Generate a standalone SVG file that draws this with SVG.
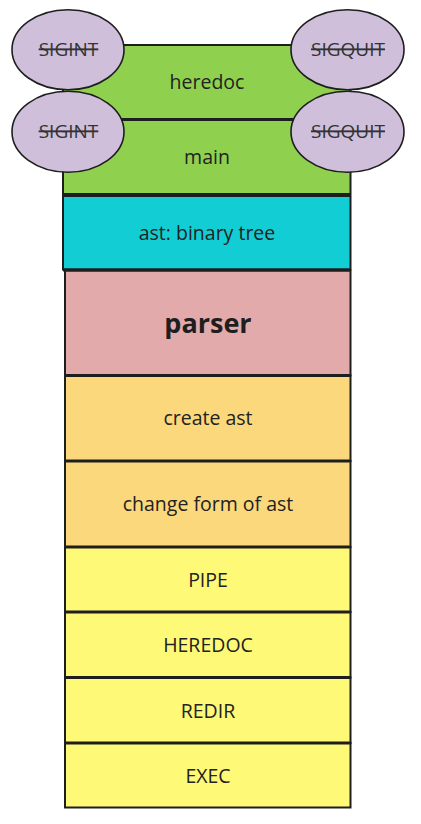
<svg xmlns="http://www.w3.org/2000/svg" width="421" height="824" viewBox="0 0 421 824">
<style>
.box{stroke:#1e1e1e;stroke-width:2}
.sep{stroke:#1e1e1e;stroke-width:3}
.sig{fill:#cfbfdb;stroke:#1e1e1e;stroke-width:1.6}
.t{font-family:"Open Sans","Noto Sans",sans-serif;font-size:19.5px;fill:#222;text-anchor:middle}
.s{font-family:"Open Sans","Noto Sans",sans-serif;font-size:19px;fill:#333;text-anchor:middle;text-decoration:line-through}
.b{font-family:"Open Sans","Noto Sans",sans-serif;font-size:27px;font-weight:bold;fill:#1e1e1e;text-anchor:middle}
.green{fill:#8fd14f}.cyan{fill:#12cdd4}.pink{fill:#e3aaab}.orange{fill:#fad87b}.yellow{fill:#fff978}
</style>
<rect width="421" height="824" fill="#ffffff"/>
<g id="connectors"></g>
<g id="heredoc"><rect class="box green" x="63" y="45" width="287.5" height="74.5"/><text class="t" x="207" y="89">heredoc</text></g>
<g id="main"><rect class="box green" x="63" y="119.5" width="287.5" height="74.5"/><line class="sep" x1="63" y1="119.5" x2="350.5" y2="119.5"/><text class="t" x="207" y="164">main</text></g>
<g id="ast"><rect class="box cyan" x="63" y="196" width="287.5" height="73.5"/><line class="sep" x1="63" y1="195" x2="350.5" y2="195"/><text class="t" x="207" y="240">ast: binary tree</text></g>
<g id="parser"><rect class="box pink" x="65" y="270.5" width="285.5" height="105"/><line class="sep" x1="63" y1="270" x2="350.5" y2="270"/><text class="b" x="208" y="333">parser</text></g>
<g id="create-ast"><rect class="box orange" x="65" y="375.5" width="285.5" height="85.5"/><line class="sep" x1="65" y1="375.5" x2="350.5" y2="375.5"/><text class="t" x="208" y="425">create ast</text></g>
<g id="change-form"><rect class="box orange" x="65" y="461" width="285.5" height="86"/><line class="sep" x1="65" y1="461" x2="350.5" y2="461"/><text class="t" x="208" y="511">change form of ast</text></g>
<g id="pipe"><rect class="box yellow" x="65" y="547" width="285.5" height="65"/><line class="sep" x1="65" y1="547" x2="350.5" y2="547"/><text class="t" x="208" y="587">PIPE</text></g>
<g id="heredoc-exec"><rect class="box yellow" x="65" y="612" width="285.5" height="65.5"/><line class="sep" x1="65" y1="612" x2="350.5" y2="612"/><text class="t" x="208" y="652">HEREDOC</text></g>
<g id="redir"><rect class="box yellow" x="65" y="677.5" width="285.5" height="65.5"/><line class="sep" x1="65" y1="677.5" x2="350.5" y2="677.5"/><text class="t" x="208" y="718">REDIR</text></g>
<g id="exec"><rect class="box yellow" x="65" y="743" width="285.5" height="64.5"/><line class="sep" x1="65" y1="743" x2="350.5" y2="743"/><text class="t" x="208" y="783">EXEC</text></g>
<g id="sigint-heredoc"><ellipse class="sig" cx="68" cy="49.7" rx="56" ry="40"/><text class="s" x="68.5" y="56">SIGINT</text></g>
<g id="sigquit-heredoc"><ellipse class="sig" cx="347.5" cy="49.7" rx="56.5" ry="40"/><text class="s" x="348" y="56">SIGQUIT</text></g>
<g id="sigint-main"><ellipse class="sig" cx="68" cy="131.7" rx="56" ry="40.5"/><text class="s" x="68.5" y="138">SIGINT</text></g>
<g id="sigquit-main"><ellipse class="sig" cx="347.5" cy="131.7" rx="56.5" ry="40.5"/><text class="s" x="348" y="138">SIGQUIT</text></g>
</svg>
